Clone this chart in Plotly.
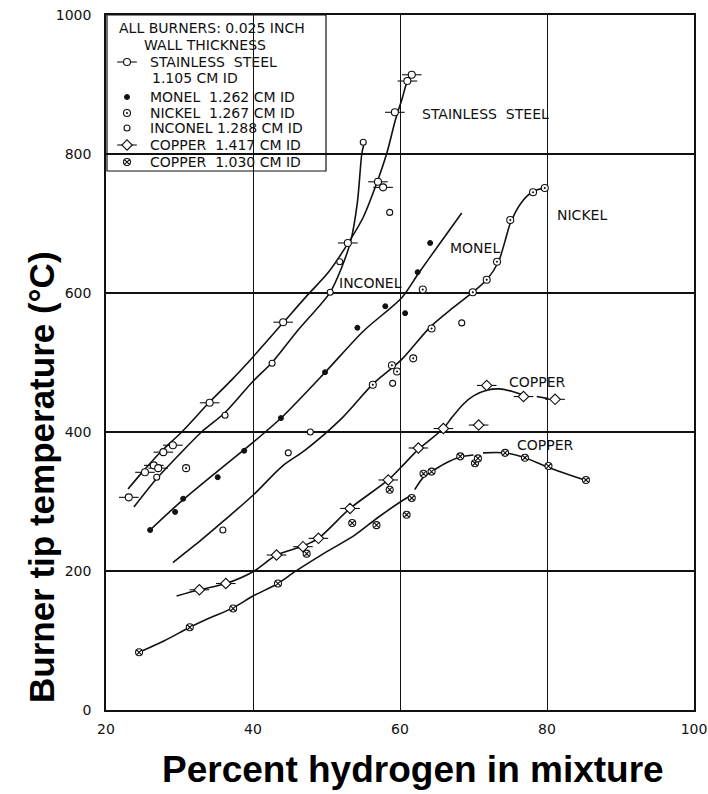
import plotly.graph_objects as go

# ---------------- data ----------------
# Stainless steel 1.105 cm ID
ss_curve_x = [23.0, 25.0, 27.5, 30.3, 34.0, 37.1, 40.0, 44.0, 47.5, 50.2, 53.2, 55.0, 56.9, 58.2, 59.4, 60.3, 61.0, 61.8]
ss_curve_y = [318, 343, 372, 400, 442, 475, 508, 556, 598, 629, 676, 709, 760, 801, 850, 880, 905, 917]
ss_pts_x = [23.1, 25.3, 26.5, 27.1, 27.8, 29.1, 34.1, 44.1, 52.9, 57.0, 57.7, 59.3, 61.0, 61.6]
ss_pts_y = [306, 342, 352, 348, 371, 381, 442, 558, 672, 760, 752, 860, 905, 914]

# Monel 1.262 cm ID
mo_curve_x = [26.0, 30.0, 35.0, 40.0, 44.0, 50.0, 55.0, 60.3, 62.5, 65.0, 68.4]
mo_curve_y = [259, 298, 342, 385, 422, 488, 545, 594, 628, 665, 715]
mo_pts_x = [26.0, 29.4, 30.5, 35.2, 38.8, 43.8, 49.8, 54.2, 58.0, 60.7, 62.4, 64.1]
mo_pts_y = [259, 285, 304, 335, 373, 420, 486, 550, 581, 571, 630, 672]

# Nickel 1.267 cm ID
ni_curve_x = [29.1, 33.0, 36.0, 40.0, 44.0, 47.1, 52.1, 56.4, 60.1, 64.1, 67.0, 70.0, 71.8, 73.4, 74.3, 75.0, 76.5, 78.1, 80.0]
ni_curve_y = [212, 245, 272, 309, 351, 374, 420, 470, 503, 551, 577, 602, 619, 645, 675, 700, 730, 746, 752]
ni_pts_x = [30.9, 56.3, 58.9, 59.6, 61.8, 63.1, 64.3, 69.9, 71.8, 73.2, 75.0, 78.1, 79.7]
ni_pts_y = [348, 468, 496, 487, 506, 605, 549, 601, 619, 645, 705, 745, 751]

# Inconel 1.288 cm ID
in_curve_x = [23.8, 26.9, 30.0, 33.0, 36.2, 40.0, 42.6, 46.0, 50.5, 52.0, 53.3, 54.2, 54.8, 55.1]
in_curve_y = [292, 333, 368, 400, 428, 473, 500, 545, 601, 635, 675, 730, 800, 815]
in_pts_x = [26.9, 35.9, 36.2, 42.6, 44.8, 47.8, 50.5, 51.8, 55.0, 58.6, 59.0, 68.4]
in_pts_y = [335, 259, 424, 499, 370, 400, 601, 645, 817, 716, 470, 557]

# Copper 1.417 cm ID (two drawn pieces)
c1_curve_x = [29.6, 32.7, 36.3, 40.0, 43.2, 46.8, 48.9, 53.2, 58.4, 60.2, 62.5, 65.9, 67.0, 68.6, 70.0, 71.8, 73.5, 75.4, 76.8]
c1_curve_y = [164, 173, 182, 199, 223, 236, 247, 290, 331, 350, 375, 405, 420, 440, 452, 460, 462, 458, 453]
c1_tail_x = [78.6, 80.2]
c1_tail_y = [451, 448]
c1_pts_x = [32.7, 36.3, 43.2, 46.8, 48.9, 53.2, 58.4, 62.5, 65.9, 70.7, 71.8, 76.8, 81.1]
c1_pts_y = [173, 182, 223, 235, 247, 290, 331, 377, 405, 410, 467, 451, 447]

# Copper 1.030 cm ID (three drawn pieces)
c2_seg1_x = [24.5, 28.0, 31.4, 34.0, 37.3, 40.0, 43.4, 45.7, 49.6, 53.9, 57.0, 60.9, 61.6]
c2_seg1_y = [83, 100, 119, 132, 147, 164, 182, 199, 225, 252, 277, 305, 309]
c2_seg2_x = [62.0, 63.2, 64.3, 66.0, 68.2, 70.0]
c2_seg2_y = [317, 335, 343, 354, 364, 367]
c2_seg3_x = [71.3, 74.3, 77.0, 80.2, 85.4]
c2_seg3_y = [370, 370, 363, 349, 330]
c2_pts_x = [24.5, 31.4, 37.3, 43.4, 47.3, 53.5, 56.8, 58.6, 60.9, 61.6, 63.2, 64.3, 68.2, 70.2, 70.6, 74.3, 77.0, 80.2, 85.3]
c2_pts_y = [83, 119, 146, 182, 225, 269, 266, 317, 281, 305, 340, 343, 365, 355, 362, 370, 363, 351, 331]

x_ticks = [20, 40, 60, 80, 100]
y_ticks = [0, 200, 400, 600, 800, 1000]

legend_header = ["ALL BURNERS: 0.025 INCH", "WALL THICKNESS"]
legend_names = [
    "STAINLESS\u00a0\u00a0STEEL",
    "MONEL\u00a0\u00a01.262 CM ID",
    "NICKEL\u00a0\u00a01.267 CM ID",
    "INCONEL\u00a01.288 CM ID",
    "COPPER\u00a0\u00a01.417 CM ID",
    "COPPER\u00a0\u00a01.030 CM ID",
]
legend_sub = "1.105 CM ID"

curve_labels = ["STAINLESS\u00a0\u00a0STEEL", "NICKEL", "MONEL", "INCONEL", "COPPER", "COPPER"]
curve_label_x = [62.7, 81.1, 66.5, 51.4, 74.6, 75.6]
curve_label_y = [858, 712, 665, 614, 472, 381]

# ---------------- layout helpers (pixel frame used only for the key box and titles) ----------------
PX_L, PX_R, PX_T, PX_B = 106, 694, 15, 710
key_box = (107, 326, 15, 171)  # left, right, top, bottom (px)
key_sym_x = 127
key_txt_x = 148
key_rows_y = [62, 97, 113, 128, 145, 162]
key_header_pos = [(117, 28), (142, 45)]
key_sub_pos = (150, 78)


def paper_x(px):
    return (px - PX_L) / (PX_R - PX_L)


def paper_y(py):
    return (PX_B - py) / (PX_B - PX_T)


INK = "#111111"
LW = 1.6
FONT = "DejaVu Sans"
fig = go.Figure()


def curve(xs, ys):
    fig.add_trace(go.Scatter(x=xs, y=ys, mode="lines", showlegend=False, hoverinfo="skip",
                             line=dict(color=INK, width=LW, shape="spline", smoothing=0.8)))


for cx, cy in [(ss_curve_x, ss_curve_y), (mo_curve_x, mo_curve_y), (ni_curve_x, ni_curve_y),
               (in_curve_x, in_curve_y), (c1_curve_x, c1_curve_y), (c1_tail_x, c1_tail_y),
               (c2_seg1_x, c2_seg1_y), (c2_seg2_x, c2_seg2_y), (c2_seg3_x, c2_seg3_y)]:
    curve(cx, cy)

SYM = {
    "ss": dict(symbol="circle", size=7, color="white", line=dict(color=INK, width=1.1)),
    "mo": dict(symbol="circle", size=5, color=INK, line=dict(color=INK, width=1)),
    "ni": dict(symbol="circle-dot", size=7, color="white", line=dict(color=INK, width=1.1)),
    "in": dict(symbol="circle", size=6, color="white", line=dict(color=INK, width=1.1)),
    "c1": dict(symbol="diamond", size=8, color="white", line=dict(color=INK, width=1.1)),
    "c2": dict(symbol="circle-x", size=7, color="white", line=dict(color=INK, width=1.1)),
}
TICK = dict(symbol="line-ew-open", size=14, color=INK, line=dict(color=INK, width=1.1))

# side ticks for the "-o-" and "-<>-" symbols
for px, py in [(ss_pts_x, ss_pts_y), (c1_pts_x, c1_pts_y)]:
    fig.add_trace(go.Scatter(x=px, y=py, mode="markers", showlegend=False, hoverinfo="skip", marker=TICK))

for key, px, py in [("ss", ss_pts_x, ss_pts_y), ("mo", mo_pts_x, mo_pts_y), ("ni", ni_pts_x, ni_pts_y),
                    ("in", in_pts_x, in_pts_y), ("c1", c1_pts_x, c1_pts_y), ("c2", c2_pts_x, c2_pts_y)]:
    fig.add_trace(go.Scatter(x=px, y=py, mode="markers", showlegend=False, marker=SYM[key]))

# ---- hand-made key (box, symbols, text) ----
fig.add_shape(type="rect", xref="paper", yref="paper", layer="between",
              x0=paper_x(key_box[0]), x1=paper_x(key_box[1]),
              y0=paper_y(key_box[3]), y1=paper_y(key_box[2]),
              fillcolor="white", line=dict(color=INK, width=1.2))
keys = ["ss", "mo", "ni", "in", "c1", "c2"]
for k, ky in zip(keys, key_rows_y):
    if k in ("ss", "c1"):
        fig.add_trace(go.Scatter(x=[key_sym_x], y=[ky], xaxis="x2", yaxis="y2", mode="markers",
                                 showlegend=False, hoverinfo="skip", marker=TICK))
    fig.add_trace(go.Scatter(x=[key_sym_x], y=[ky], xaxis="x2", yaxis="y2", mode="markers",
                             showlegend=False, hoverinfo="skip", marker=SYM[k]))

KEYFONT = dict(family=FONT, size=14, color=INK)
for t, (hx, hy) in zip(legend_header, key_header_pos):
    fig.add_annotation(xref="paper", yref="paper", x=paper_x(hx), y=paper_y(hy), text=t, showarrow=False,
                       xanchor="left", yanchor="middle", font=KEYFONT)
for t, ky in zip(legend_names, key_rows_y):
    fig.add_annotation(xref="paper", yref="paper", x=paper_x(key_txt_x), y=paper_y(ky), text=t,
                       showarrow=False, xanchor="left", yanchor="middle", font=KEYFONT)
fig.add_annotation(xref="paper", yref="paper", x=paper_x(key_sub_pos[0]), y=paper_y(key_sub_pos[1]),
                   text=legend_sub, showarrow=False, xanchor="left", yanchor="middle", font=KEYFONT)

for t, lx, ly in zip(curve_labels, curve_label_x, curve_label_y):
    fig.add_annotation(x=lx, y=ly, text=t, showarrow=False, xanchor="left", yanchor="middle",
                       font=dict(family=FONT, size=14, color=INK))

fig.add_annotation(xref="paper", yref="paper", x=paper_x(41), y=paper_y(477),
                   text="<b>Burner tip temperature (°C)</b>",
                   textangle=-90, showarrow=False, xanchor="center", yanchor="middle",
                   font=dict(family="Liberation Sans, Arial", size=35, color="black"))
fig.add_annotation(xref="paper", yref="paper", x=paper_x(413), y=paper_y(770),
                   text="<b>Percent hydrogen in mixture</b>",
                   showarrow=False, xanchor="center", yanchor="middle",
                   font=dict(family="Liberation Sans, Arial", size=37, color="black"))

axis_common = dict(showline=True, linecolor=INK, linewidth=1.5, mirror=True, ticks="",
                   showgrid=True, gridcolor=INK, zeroline=False, automargin=False,
                   tickfont=dict(family=FONT, size=14, color=INK))
fig.update_xaxes(range=[20, 100], tickvals=x_ticks, ticktext=[str(v) for v in x_ticks],
                 gridwidth=1, ticklabelstandoff=5, **axis_common)
fig.update_yaxes(range=[0, 1000], tickvals=y_ticks, ticktext=[str(v) for v in y_ticks],
                 gridwidth=1.5, ticklabelstandoff=10, **axis_common)

fig.update_layout(
    width=708, height=794,
    margin=dict(l=PX_L, r=708 - PX_R, t=PX_T, b=794 - PX_B, autoexpand=False),
    paper_bgcolor="white", plot_bgcolor="white",
    showlegend=False,
    xaxis2=dict(overlaying="x", range=[PX_L, PX_R], visible=False, fixedrange=True),
    yaxis2=dict(overlaying="y", range=[PX_B, PX_T], visible=False, fixedrange=True),
)

fig.write_html("out.html")
